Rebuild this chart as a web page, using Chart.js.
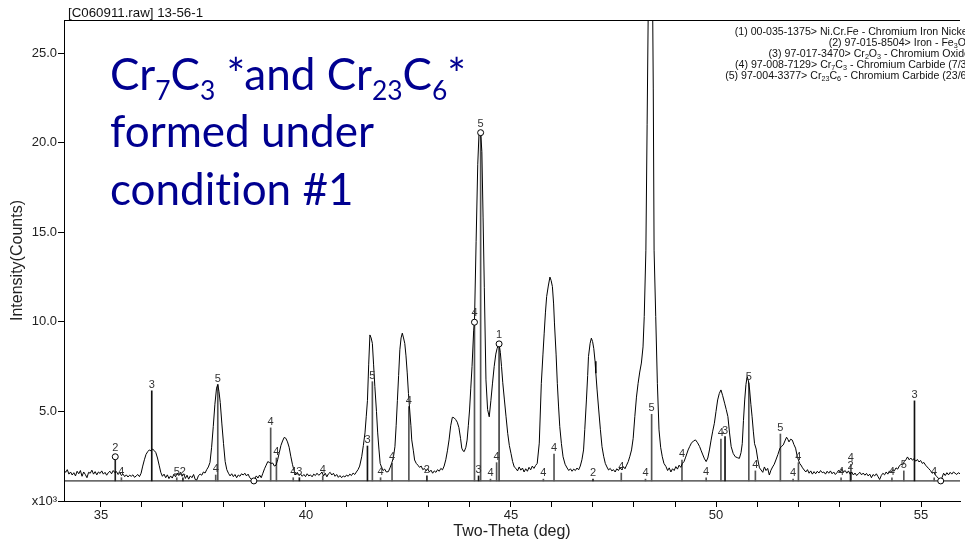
<!DOCTYPE html>
<html>
<head>
<meta charset="utf-8">
<script src="https://cdn.jsdelivr.net/npm/chart.js@4/dist/chart.umd.min.js"></script>
<style>
html, body { margin: 0; padding: 0; background: #fff; }
#wrap { width: 965px; height: 541px; position: relative; }
</style>
</head>
<body>
<div id="wrap"><canvas id="xrdChart" width="965" height="541"></canvas></div>
<script>
// scan (two-theta deg, counts x1000)
const scanPoints = [
  [34.10,1.72],[34.14,1.60],[34.18,1.75],[34.22,1.50],[34.26,1.62],[34.30,1.45],[34.34,1.58],[34.38,1.40],
  [34.42,1.66],[34.46,1.52],[34.50,1.70],[34.54,1.38],[34.58,1.62],[34.62,1.48],[34.66,1.30],[34.70,1.60],
  [34.74,1.55],[34.78,1.72],[34.82,1.50],[34.86,1.64],[34.90,1.46],[34.94,1.62],[34.98,1.54],[35.02,1.68],
  [35.06,1.50],[35.10,1.60],[35.14,1.44],[35.18,1.58],[35.22,1.66],[35.26,1.52],[35.30,1.70],[35.34,1.58],
  [35.38,1.64],[35.42,1.48],[35.46,1.60],[35.50,1.42],[35.54,1.50],[35.58,1.36],[35.62,1.46],[35.66,1.34],
  [35.70,1.44],[35.74,1.38],[35.78,1.46],[35.82,1.32],[35.86,1.40],[35.90,1.48],[35.94,1.36],[35.98,1.55],
  [36.02,1.95],[36.06,2.30],[36.10,2.60],[36.14,2.75],[36.18,2.85],[36.22,2.80],[36.26,2.90],[36.30,2.82],
  [36.34,2.70],[36.38,2.40],[36.42,2.00],[36.46,1.60],[36.50,1.38],[36.54,1.50],[36.58,1.30],[36.62,1.46],
  [36.66,1.25],[36.70,1.40],[36.74,1.28],[36.78,1.50],[36.82,1.35],[36.86,1.56],[36.90,1.42],[36.94,1.60],
  [36.98,1.38],[37.02,1.52],[37.06,1.26],[37.10,1.44],[37.14,1.22],[37.18,1.40],[37.22,1.30],[37.26,1.48],
  [37.30,1.20],[37.34,1.18],[37.38,1.42],[37.42,1.50],[37.46,1.44],[37.50,1.62],[37.54,1.56],[37.58,1.75],
  [37.62,1.90],[37.66,2.15],[37.70,3.00],[37.74,4.15],[37.78,5.40],[37.82,6.30],[37.85,6.50],[37.88,6.10],
  [37.91,5.50],[37.95,4.30],[37.99,3.20],[38.03,2.20],[38.07,1.75],[38.11,1.55],[38.15,1.40],[38.19,1.52],
  [38.23,1.36],[38.27,1.48],[38.31,1.30],[38.35,1.45],[38.39,1.38],[38.43,1.52],[38.47,1.45],[38.51,1.55],
  [38.55,1.40],[38.59,1.50],[38.63,1.30],[38.67,1.22],[38.71,1.10],[38.75,1.25],[38.79,1.40],[38.83,1.28],
  [38.87,1.45],[38.91,1.30],[38.95,1.55],[38.99,1.80],[39.03,2.00],[39.07,2.20],[39.11,2.15],[39.15,2.10],
  [39.19,2.12],[39.23,1.95],[39.27,2.00],[39.31,2.30],[39.35,2.70],[39.39,3.10],[39.43,3.35],[39.47,3.55],
  [39.51,3.50],[39.55,3.30],[39.59,3.00],[39.63,2.50],[39.67,2.05],[39.71,1.70],[39.75,1.45],[39.79,1.60],
  [39.83,1.42],[39.87,1.50],[39.91,1.38],[39.95,1.48],[39.99,1.36],[40.03,1.52],[40.07,1.40],[40.11,1.46],
  [40.15,1.35],[40.19,1.50],[40.23,1.42],[40.27,1.55],[40.31,1.44],[40.35,1.50],[40.39,1.62],[40.43,1.40],
  [40.47,1.55],[40.51,1.35],[40.55,1.52],[40.59,1.60],[40.63,1.45],[40.67,1.55],[40.71,1.38],[40.75,1.48],
  [40.79,1.32],[40.83,1.42],[40.87,1.30],[40.91,1.40],[40.95,1.34],[40.99,1.45],[41.03,1.38],[41.07,1.50],
  [41.11,1.42],[41.15,1.56],[41.19,1.48],[41.23,1.62],[41.27,1.75],[41.31,1.95],[41.36,2.47],[41.40,3.10],
  [41.44,3.80],[41.47,4.70],[41.50,5.60],[41.53,7.60],[41.56,9.27],[41.59,9.10],[41.62,8.80],[41.65,7.60],
  [41.68,6.40],[41.72,5.00],[41.75,3.80],[41.78,2.90],[41.81,2.10],[41.85,1.85],[41.88,1.70],[41.92,1.78],
  [41.96,1.62],[42.01,1.64],[42.05,1.85],[42.09,2.10],[42.13,2.40],[42.17,3.03],[42.20,4.20],[42.23,5.60],
  [42.26,7.00],[42.29,8.44],[42.32,9.10],[42.35,9.37],[42.38,9.10],[42.41,8.80],[42.44,8.10],[42.47,7.15],
  [42.50,6.00],[42.53,5.08],[42.56,4.20],[42.58,3.41],[42.62,2.80],[42.65,2.29],[42.69,2.10],[42.73,2.00],
  [42.77,1.88],[42.81,1.95],[42.85,1.75],[42.89,1.82],[42.93,1.68],[42.97,1.80],[43.01,1.62],[43.05,1.72],
  [43.09,1.55],[43.13,1.68],[43.17,1.60],[43.21,1.75],[43.25,1.66],[43.29,1.82],[43.33,1.74],[43.37,1.95],
  [43.41,2.30],[43.45,2.80],[43.49,3.41],[43.53,4.20],[43.57,4.67],[43.61,4.65],[43.65,4.55],[43.69,4.40],
  [43.73,4.10],[43.77,3.50],[43.80,2.95],[43.83,2.80],[43.86,2.76],[43.90,3.00],[43.93,3.40],[43.96,4.20],
  [43.99,5.08],[44.02,6.30],[44.05,7.50],[44.09,9.50],[44.11,9.98],[44.15,14.5],[44.19,18.8],[44.22,20.50],
  [44.26,20.56],[44.29,19.5],[44.32,15.8],[44.35,11.9],[44.39,6.76],[44.43,5.10],[44.47,4.70],[44.51,5.60],
  [44.55,6.58],[44.59,7.50],[44.63,8.20],[44.66,8.50],[44.69,8.70],[44.71,8.77],[44.74,8.30],[44.77,7.50],
  [44.80,6.60],[44.84,5.64],[44.88,4.70],[44.92,3.78],[44.96,3.10],[45.00,2.66],[45.04,2.20],[45.08,1.90],
  [45.12,1.82],[45.16,1.68],[45.20,1.90],[45.24,1.72],[45.28,1.84],[45.32,1.62],[45.36,1.80],[45.40,1.66],
  [45.44,1.88],[45.48,1.74],[45.52,1.95],[45.56,1.82],[45.60,1.98],[45.64,2.10],[45.69,3.23],[45.74,6.57],
  [45.78,8.20],[45.81,9.37],[45.84,10.5],[45.87,11.41],[45.91,12.00],[45.95,12.50],[45.98,12.30],[46.01,11.97],
  [46.04,11.00],[46.06,9.94],[46.10,8.20],[46.13,6.57],[46.16,5.30],[46.19,4.15],[46.23,3.20],[46.27,2.47],
  [46.32,2.05],[46.37,1.84],[46.41,1.70],[46.45,1.80],[46.49,1.66],[46.53,1.78],[46.57,1.70],[46.61,1.84],
  [46.65,1.74],[46.69,1.95],[46.73,2.30],[46.77,2.85],[46.80,4.00],[46.84,5.64],[46.87,7.00],[46.89,8.06],
  [46.93,8.80],[46.96,9.09],[46.99,8.90],[47.02,8.50],[47.05,7.80],[47.07,7.13],[47.10,6.20],[47.14,5.08],
  [47.18,4.00],[47.22,3.03],[47.26,2.50],[47.30,2.10],[47.34,1.90],[47.38,1.73],[47.42,1.82],[47.46,1.68],
  [47.50,1.75],[47.54,1.62],[47.58,1.80],[47.62,1.70],[47.66,1.86],[47.70,1.74],[47.74,1.92],[47.78,1.80],
  [47.82,2.00],[47.86,2.20],[47.90,2.50],[47.94,2.85],[47.98,3.50],[48.02,4.71],[48.06,5.80],[48.10,6.57],
  [48.14,7.20],[48.18,7.70],[48.22,8.60],[48.25,10.3],[48.29,14.0],[48.32,21.0],[48.35,28.0],[48.40,33.0],
  [48.45,29.0],[48.47,23.0],[48.49,14.0],[48.53,10.3],[48.57,6.57],[48.61,3.97],[48.65,3.00],[48.69,2.47],
  [48.73,2.10],[48.78,1.92],[48.82,1.70],[48.86,1.85],[48.90,1.62],[48.94,1.80],[48.98,1.70],[49.02,1.92],
  [49.06,1.78],[49.10,2.00],[49.14,1.88],[49.18,2.10],[49.22,2.20],[49.26,2.45],[49.32,2.85],[49.36,3.05],
  [49.40,3.23],[49.45,3.35],[49.50,3.41],[49.55,3.25],[49.60,3.04],[49.64,2.80],[49.68,2.57],[49.72,2.35],
  [49.76,2.20],[49.80,2.40],[49.84,2.85],[49.88,3.40],[49.92,3.90],[49.96,4.34],[50.00,5.00],[50.04,5.64],
  [50.08,6.00],[50.12,6.20],[50.16,5.90],[50.21,5.46],[50.25,5.10],[50.29,4.71],[50.33,3.80],[50.37,3.03],
  [50.42,2.65],[50.47,2.47],[50.52,2.42],[50.57,2.38],[50.61,2.70],[50.64,3.20],[50.67,4.50],[50.70,5.64],
  [50.73,6.50],[50.76,6.95],[50.79,6.70],[50.82,6.20],[50.85,5.40],[50.88,4.70],[50.91,3.90],[50.94,3.20],
  [50.98,2.90],[51.02,2.30],[51.06,1.85],[51.10,1.73],[51.14,1.60],[51.18,1.90],[51.22,1.70],[51.26,1.82],
  [51.30,1.45],[51.34,1.72],[51.38,1.90],[51.42,2.05],[51.46,2.29],[51.51,2.60],[51.56,2.95],[51.60,3.05],
  [51.64,3.13],[51.68,3.35],[51.72,3.56],[51.75,3.45],[51.78,3.30],[51.82,3.45],[51.86,3.40],[51.90,3.15],
  [51.94,2.95],[51.98,2.50],[52.01,2.29],[52.04,2.10],[52.07,2.01],[52.11,1.85],[52.15,1.73],[52.19,1.62],
  [52.23,1.75],[52.27,1.55],[52.31,1.68],[52.35,1.50],[52.39,1.64],[52.43,1.52],[52.47,1.66],[52.51,1.56],
  [52.55,1.70],[52.59,1.58],[52.63,1.62],[52.67,1.50],[52.71,1.66],[52.75,1.55],[52.79,1.68],[52.83,1.52],
  [52.87,1.62],[52.91,1.48],[52.95,1.58],[52.99,1.72],[53.03,1.60],[53.07,1.78],[53.11,1.62],[53.15,1.70],
  [53.19,1.55],[53.23,1.68],[53.27,1.50],[53.31,1.62],[53.35,1.45],[53.39,1.56],[53.43,1.42],[53.47,1.52],
  [53.51,1.60],[53.55,1.46],[53.59,1.56],[53.63,1.44],[53.67,1.54],[53.71,1.40],[53.75,1.50],[53.79,1.30],
  [53.83,1.48],[53.87,1.40],[53.91,1.52],[53.95,1.36],[53.99,1.20],[54.03,1.42],[54.07,1.55],[54.11,1.46],
  [54.15,1.62],[54.19,1.50],[54.23,1.68],[54.27,1.58],[54.31,1.75],[54.35,1.68],[54.39,1.85],[54.43,1.78],
  [54.47,1.95],[54.51,2.05],[54.55,2.00],[54.59,2.20],[54.63,2.30],[54.67,2.46],[54.71,2.30],[54.75,2.40],
  [54.79,2.28],[54.83,2.36],[54.87,2.22],[54.91,2.32],[54.95,2.18],[54.99,2.26],[55.03,2.10],[55.07,2.15],
  [55.11,2.00],[55.15,1.90],[55.19,1.80],[55.23,1.70],[55.27,1.55],[55.31,1.60],[55.35,1.45],[55.39,1.35],
  [55.43,1.25],[55.47,1.15],[55.51,1.30],[55.55,1.55],[55.59,1.42],[55.63,1.58],[55.67,1.46],[55.71,1.60],
  [55.75,1.50],[55.79,1.62],[55.83,1.55],[55.87,1.48],[55.91,1.58],[55.95,1.52]
];

// reference phase sticks
const stickAngle = [35.35, 35.50, 36.24, 36.85, 37.00, 37.80, 37.85, 39.14, 39.28, 39.69, 39.84, 40.41,
  41.50, 41.62, 41.82, 42.10, 42.51, 42.95, 44.11, 44.21, 44.26, 44.50, 44.65, 44.71, 45.79, 46.05,
  47.00, 47.69, 48.28, 48.43, 49.17, 49.76, 50.12, 50.22, 50.80, 50.96, 51.57, 51.88, 52.01, 53.05,
  53.29, 53.28, 54.29, 54.58, 54.84, 55.32];
const stickTop = [2.47, 1.30, 6.15, 1.30, 1.30, 1.45, 6.50, 4.08, 2.40, 1.30, 1.30, 1.40,
  3.07, 6.66, 1.30, 2.10, 5.27, 1.40, 9.98, 1.40, 20.56, 1.22, 2.14, 8.77, 1.22, 2.62,
  1.22, 1.56, 1.22, 4.84, 2.29, 1.30, 3.46, 3.59, 6.59, 1.68, 3.74, 1.22, 2.14, 1.30,
  2.05, 1.60, 1.30, 1.68, 5.59, 1.30];
const stickPhase = [2, 4, 3, 5, 2, 4, 5, 4, 4, 4, 3, 4,
  3, 5, 4, 4, 4, 2, 4, 3, 5, 4, 4, 1, 4, 4,
  2, 4, 4, 5, 4, 4, 4, 3, 5, 4, 5, 4, 4, 4,
  4, 2, 4, 5, 3, 4];
const baselineLevel = 1.12;

// open circle markers
const markerAngle = [35.35, 38.73, 44.11, 44.26, 44.71, 55.48];
const markerCounts = [2.47, 1.12, 9.98, 20.56, 8.77, 1.12];

const phaseColors = { 1: "#444", 2: "#222", 3: "#111", 4: "#555", 5: "#555" };

const phaseLegend = [
  "(1) 00-035-1375> Ni.Cr.Fe - Chromium Iron Nickel",
  "(2) 97-015-8504> Iron - Fe_3O_4",
  "(3) 97-017-3470> Cr_2O_3 - Chromium Oxide",
  "(4) 97-008-7129> Cr_7C_3 - Chromium Carbide (7/3)",
  "(5) 97-004-3377> Cr_23C_6 - Chromium Carbide (23/6)",
];
// \u200C keeps the "ti" pair from turning into a ligature
const noteLines = ["Cr_7C_3 *and Cr_23C_6*", "formed under", "condit\u200Cion #1"];
const headerText = "[C060911.raw] 13-56-1";

const xTickValues = [35, 36, 37, 38, 39, 40, 41, 42, 43, 44, 45, 46, 47, 48, 49, 50, 51, 52, 53, 54, 55];
const yTickValues = [0, 5, 10, 15, 20, 25];

const AXIS_FONT = "'Liberation Sans', Arial, sans-serif";

function drawRich(ctx, text, x, y, size, family, align, subScale) {
  let parts = [];
  let re = /_(\d+)/g;
  let last = 0;
  let m;
  while ((m = re.exec(text))) {
    if (m.index > last) parts.push({ t: text.slice(last, m.index), sub: false });
    parts.push({ t: m[1], sub: true });
    last = re.lastIndex;
  }
  if (last < text.length) parts.push({ t: text.slice(last), sub: false });
  let total = 0;
  parts.forEach((p) => {
    ctx.font = (p.sub ? size * subScale : size) + "px " + family;
    p.w = ctx.measureText(p.t).width;
    total += p.w;
  });
  let cx = align == "right" ? x - total : x;
  ctx.textAlign = "left";
  ctx.textBaseline = "alphabetic";
  parts.forEach((p) => {
    ctx.font = (p.sub ? size * subScale : size) + "px " + family;
    ctx.fillText(p.t, cx, p.sub ? y + size * 0.22 : y);
    cx += p.w;
  });
}

const annotatePlugin = {
  id: "annotate",
  afterDatasetsDraw(chart) {
    const ctx = chart.ctx;
    const xs = chart.scales.x;
    const ys = chart.scales.y;
    ctx.save();
    ctx.font = "11px " + AXIS_FONT;
    ctx.fillStyle = "#333";
    ctx.textAlign = "center";
    ctx.textBaseline = "alphabetic";
    stickAngle.forEach((a, i) => {
      let px = xs.getPixelForValue(a);
      let py = ys.getPixelForValue(stickTop[i]);
      let hasMarker = markerAngle.indexOf(a) >= 0;
      ctx.fillText(String(stickPhase[i]), px, py - (hasMarker ? 6 : 3));
    });
    // top frame line
    const area = chart.chartArea;
    ctx.strokeStyle = "#000";
    ctx.lineWidth = 1;
    ctx.beginPath();
    ctx.moveTo(area.left, area.top + 0.5);
    ctx.lineTo(area.right, area.top + 0.5);
    ctx.stroke();
    ctx.restore();
  },
  afterDraw(chart) {
    const ctx = chart.ctx;
    ctx.save();
    ctx.fillStyle = "#111";
    ctx.font = "13.3px " + AXIS_FONT;
    ctx.textAlign = "left";
    ctx.textBaseline = "alphabetic";
    ctx.fillText(headerText, 68, 17);

    phaseLegend.forEach((line, i) => {
      drawRich(ctx, line, 970, 35 + i * 11, 10.6, AXIS_FONT, "right", 0.68);
    });

    ctx.fillStyle = "#000090";
    noteLines.forEach((line, i) => {
      drawRich(ctx, line, 110, [90, 147, 205][i], 44, "Lato, 'Noto Sans', sans-serif", "left", 0.6);
    });
    ctx.restore();
  },
};

const ctx = document.getElementById("xrdChart");
const chart = new Chart(ctx, {
  type: "line",
  data: {
    datasets: [
      {
        type: "scatter",
        data: markerAngle.map((a, i) => ({ x: a, y: markerCounts[i] })),
        pointRadius: 3,
        pointBackgroundColor: "#fff",
        pointBorderColor: "#000",
        pointBorderWidth: 1,
        order: 0,
      },
      {
        type: "line",
        data: scanPoints.map((p) => ({ x: p[0], y: p[1] })),
        borderColor: "#000",
        borderWidth: 1,
        pointRadius: 0,
        tension: 0,
        order: 1,
      },
      {
        type: "bar",
        data: stickAngle.map((a, i) => ({ x: a, y: [baselineLevel, stickTop[i]] })),
        backgroundColor: stickPhase.map((p) => phaseColors[p]),
        barThickness: 1,
        order: 2,
      },
      {
        type: "line",
        data: [
          { x: 34.1, y: baselineLevel },
          { x: 55.95, y: baselineLevel },
        ],
        borderColor: "#000",
        borderWidth: 1,
        pointRadius: 0,
        order: 3,
      },
    ],
  },
  options: {
    responsive: false,
    devicePixelRatio: 1,
    animation: false,
    layout: { padding: { top: 20, right: 0, left: 0, bottom: 0 } },
    plugins: { legend: { display: false }, tooltip: { enabled: false } },
    scales: {
      x: {
        type: "linear",
        min: 34.1,
        max: 55.95,
        offset: false,
        afterBuildTicks: (scale) => {
          scale.ticks = xTickValues.map((v) => ({ value: v }));
        },
        afterFit: (scale) => {
          scale.height = 40;
        },
        grid: { drawOnChartArea: false, drawTicks: true, tickLength: 6, color: "#000", offset: false },
        border: { display: true, color: "#000" },
        ticks: {
          autoSkip: false,
          maxRotation: 0,
          padding: 1,
          color: "#222",
          font: { family: AXIS_FONT, size: 13 },
          callback: (v) => (v % 5 == 0 ? String(v) : ""),
        },
        title: {
          display: true,
          text: "Two-Theta (deg)",
          color: "#222",
          font: { family: AXIS_FONT, size: 16 },
          padding: { top: 0, bottom: 0 },
        },
      },
      y: {
        type: "linear",
        min: 0,
        max: 26.85,
        afterBuildTicks: (scale) => {
          scale.ticks = yTickValues.map((v) => ({ value: v }));
        },
        afterFit: (scale) => {
          scale.width = 64;
        },
        grid: { drawOnChartArea: false, drawTicks: true, tickLength: 6, color: "#000" },
        border: { display: true, color: "#000" },
        ticks: {
          padding: 1,
          color: "#222",
          font: { family: AXIS_FONT, size: 13 },
          callback: (v) => (v == 0 ? "x10³" : v.toFixed(1)),
        },
        title: {
          display: true,
          text: "Intensity(Counts)",
          color: "#222",
          font: { family: AXIS_FONT, size: 16 },
          padding: { top: 8, bottom: 0 },
        },
      },
    },
  },
  plugins: [annotatePlugin],
});
</script>
</body>
</html>
